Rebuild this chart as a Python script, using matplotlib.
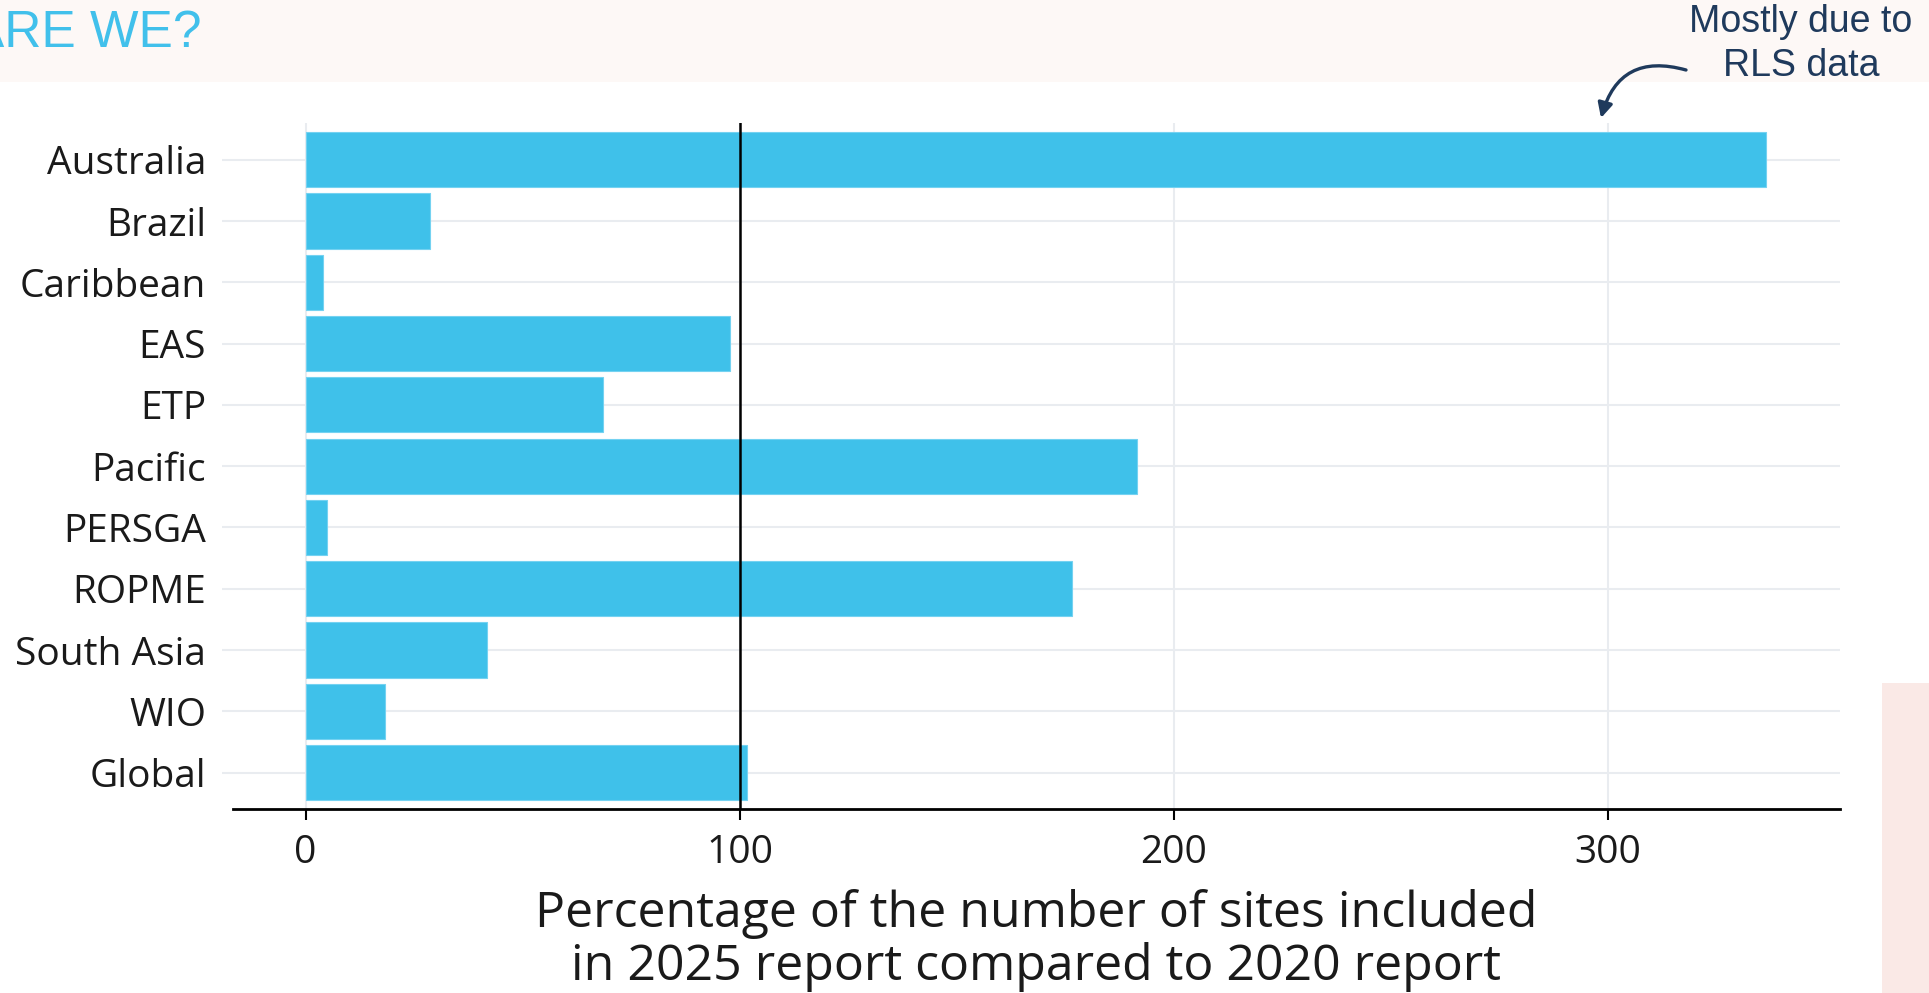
import matplotlib
matplotlib.use("Agg")
import matplotlib.pyplot as plt
from matplotlib.patches import Rectangle, FancyArrowPatch

# ---------- data ----------
regions = ["Australia", "Brazil", "Caribbean", "EAS", "ETP", "Pacific",
           "PERSGA", "ROPME", "South Asia", "WIO", "Global"]
pct_sites = [336.6, 28.6, 4.0, 97.9, 68.5, 191.6, 4.9, 176.5, 41.9, 18.3, 101.8]
x_ticks = [0, 100, 200, 300]
ref_line = 100

BAR_COLOR = "#3FC1EA"
GRID_COLOR = "#E9ECF0"
NAVY = "#1F3A5C"

W, H = 1929, 993
fig = plt.figure(figsize=(W / 100, H / 100), dpi=100)
fig.patch.set_facecolor("white")

# ---------- slide background bits ----------
fig.add_artist(Rectangle((0, 1 - 82 / H), 1, 82 / H, transform=fig.transFigure,
                         facecolor="#FDF8F6", edgecolor="none", zorder=0))
fig.add_artist(Rectangle((1882 / W, 0), 47 / W, 310 / H, transform=fig.transFigure,
                         facecolor="#FAE9E6", edgecolor="none", zorder=0))

# ---------- panel ----------
ax = fig.add_axes([232.5 / W, (H - 809.4) / H, 1607 / W, (809.4 - 123) / H])
ax.set_facecolor("none")

ypos = list(range(len(regions)))
ax.barh(ypos, pct_sites, height=0.9, color=BAR_COLOR, edgecolor="#74D2F1",
        linewidth=0.8, zorder=2)
ax.axvline(ref_line, color="black", linewidth=1.8, zorder=3)

xmax = max(pct_sites)
pad = 0.05 * xmax
ax.set_xlim(-pad, xmax + pad)
ax.set_ylim(len(regions) - 0.4, -0.6)

ax.set_xticks(x_ticks)
ax.set_xticklabels([str(t) for t in x_ticks])
ax.set_yticks(ypos)
ax.set_yticklabels(regions)

ax.grid(True, color=GRID_COLOR, linewidth=1.5, zorder=0)
ax.set_axisbelow(True)

for s in ["top", "right", "left"]:
    ax.spines[s].set_visible(False)
ax.spines["bottom"].set_color("black")
ax.spines["bottom"].set_linewidth(2.0)

ax.tick_params(axis="x", length=8, width=1.5, color="black", pad=10,
               labelsize=28, labelcolor="#1A1A1A")
ax.tick_params(axis="y", length=8, width=1.5, color=GRID_COLOR, pad=11,
               labelsize=28, labelcolor="#1A1A1A")
for lab in ax.get_xticklabels() + ax.get_yticklabels():
    lab.set_fontfamily("Open Sans")

ax.set_xlabel("Percentage of the number of sites included\n"
              "in 2025 report compared to 2020 report",
              fontsize=36, fontfamily="Open Sans", color="#1A1A1A",
              linespacing=1.08, labelpad=12)

# ---------- slide title fragment and annotation ----------
fig.text(202 / W, 1 - 47 / H, "ARE WE?", ha="right", va="baseline",
         fontsize=37, fontfamily="Liberation Sans", color="#41C0EB")

fig.text(1801 / W, 1 - 44 / H, "Mostly due to\nRLS data", ha="center", va="center",
         fontsize=27, fontfamily="Liberation Sans", color=NAVY, linespacing=1.3)

arrow = FancyArrowPatch((1686 / W, 1 - 70 / H), (1601 / W, 1 - 118 / H),
                        transform=fig.transFigure,
                        connectionstyle="arc3,rad=0.5", arrowstyle="-|>",
                        mutation_scale=22, color=NAVY, linewidth=2.4,
                        shrinkA=0, shrinkB=0)
fig.add_artist(arrow)

fig.savefig("out.png", dpi=100)
